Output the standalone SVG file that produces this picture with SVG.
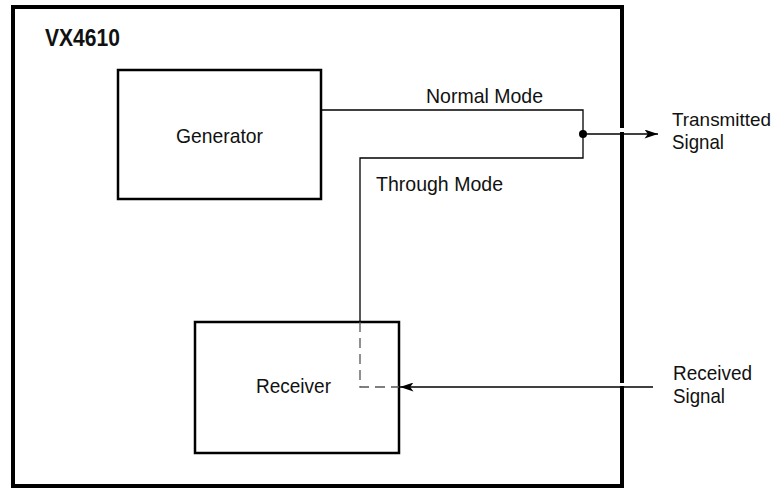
<svg xmlns="http://www.w3.org/2000/svg" width="780" height="493" viewBox="0 0 780 493">
<style>
text{font-family:"Liberation Sans",Arial,sans-serif;font-size:21px;fill:#111}
.box{fill:#fff;stroke:#000;stroke-width:2.5}
.ln{fill:none;stroke:#000;stroke-width:1.3}
</style>
<defs>
<marker id="ah" viewBox="0 0 12 8" refX="12" refY="4" markerWidth="14" markerHeight="9" markerUnits="userSpaceOnUse" orient="auto"><path d="M0,0L12,4L0,8L3,4Z" fill="#000"/></marker>
</defs>
<rect width="780" height="493" fill="#fff"/>
<g id="vx4610">
<rect x="13" y="7" width="609" height="479" fill="none" stroke="#000" stroke-width="4"/>
<text x="45" y="46" style="font-weight:bold;font-size:24px" textLength="75" lengthAdjust="spacingAndGlyphs">VX4610</text>
</g>
<g id="generator">
<rect class="box" x="118" y="70" width="203" height="129"/>
<text x="176" y="143" textLength="87" lengthAdjust="spacingAndGlyphs">Generator</text>
</g>
<g id="receiver">
<rect class="box" x="195" y="322" width="204" height="131"/>
<text x="256" y="393" textLength="75" lengthAdjust="spacingAndGlyphs">Receiver</text>
</g>
<g id="connectors">
<path class="ln" d="M321,110H583V158H360V322"/>
<path d="M360,322V387H399" fill="none" stroke="#555" stroke-width="1.3" stroke-dasharray="10,6"/>
<circle cx="583" cy="134" r="4" fill="#000"/>
<rect x="618" y="128" width="8" height="4" fill="#fff"/>
<path class="ln" d="M583,134H658" marker-end="url(#ah)" stroke-width="1.5"/>
<rect x="618" y="383" width="8" height="3" fill="#fff"/>
<path class="ln" d="M653,387H400" marker-end="url(#ah)" stroke-width="1.5"/>
</g>
<g id="labels">
<text x="426" y="103" textLength="117" lengthAdjust="spacingAndGlyphs">Normal Mode</text>
<text x="376" y="191" textLength="127" lengthAdjust="spacingAndGlyphs">Through Mode</text>
<text x="672" y="126" style="font-size:19px" textLength="99" lengthAdjust="spacingAndGlyphs">Transmitted</text>
<text x="672" y="149" textLength="52" lengthAdjust="spacingAndGlyphs">Signal</text>
<text x="673" y="380" textLength="79" lengthAdjust="spacingAndGlyphs">Received</text>
<text x="673" y="403" textLength="52" lengthAdjust="spacingAndGlyphs">Signal</text>
</g>
</svg>
